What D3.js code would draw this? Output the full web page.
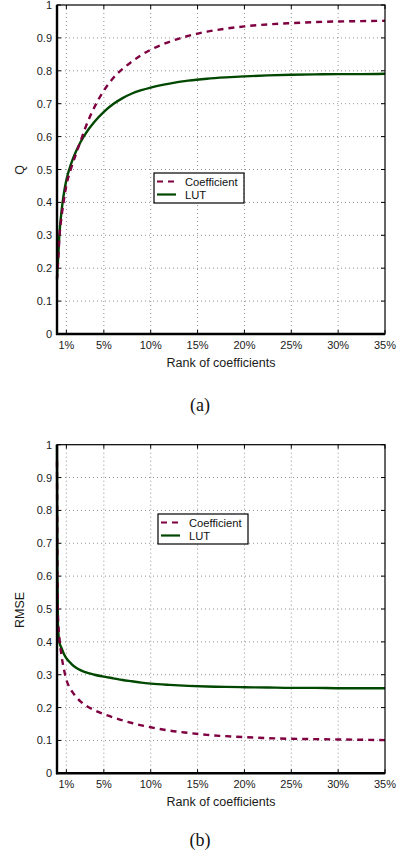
<!DOCTYPE html>
<html><head><meta charset="utf-8">
<script src="https://cdn.jsdelivr.net/npm/d3@7"></script>
<style>body{margin:0;background:#fff}svg{display:block}</style>
</head><body>
<script>
// ---- data ----
const rank = [0, 0.05, 0.1, 0.25, 0.5, 0.75, 1, 1.5, 2, 2.5, 3, 4, 5, 6, 7, 8, 9, 10, 12, 14, 16, 18, 20, 22.5, 25, 27.5, 30, 32.5, 35];
const qLUT = [0.17, 0.195, 0.22, 0.30, 0.377, 0.43, 0.468, 0.517, 0.553, 0.583, 0.607, 0.645, 0.675, 0.699, 0.717, 0.731, 0.741, 0.749, 0.761, 0.77, 0.776, 0.78, 0.783, 0.786, 0.788, 0.789, 0.79, 0.79, 0.791];
const qCoef = [0.165, 0.19, 0.21, 0.29, 0.36, 0.41, 0.452, 0.503, 0.545, 0.585, 0.625, 0.69, 0.74, 0.778, 0.806, 0.828, 0.848, 0.864, 0.888, 0.906, 0.919, 0.928, 0.935, 0.941, 0.945, 0.948, 0.95, 0.951, 0.952];
const rmseLUT = [1.0, 0.6, 0.45, 0.40, 0.38, 0.362, 0.35, 0.334, 0.322, 0.314, 0.308, 0.300, 0.294, 0.289, 0.284, 0.28, 0.276, 0.273, 0.269, 0.266, 0.264, 0.263, 0.262, 0.261, 0.26, 0.26, 0.259, 0.259, 0.259];
const rmseCoef = [0.95, 0.6, 0.48, 0.415, 0.355, 0.315, 0.285, 0.254, 0.234, 0.219, 0.208, 0.192, 0.18, 0.17, 0.161, 0.153, 0.146, 0.14, 0.13, 0.123, 0.117, 0.113, 0.11, 0.107, 0.105, 0.104, 0.103, 0.102, 0.101];
const xTicks = [1, 5, 10, 15, 20, 25, 30, 35];
const yTicks = [0, 0.1, 0.2, 0.3, 0.4, 0.5, 0.6, 0.7, 0.8, 0.9, 1];
const seriesNames = ["Coefficient", "LUT"];
const xLabel = "Rank of coefficients";

const colCoef = "#7f0040", colLUT = "#004800";
const FONT = "Liberation Sans, Arial, sans-serif";
const svg = d3.select("body").append("svg").attr("width", 398).attr("height", 852);

function panel(cfg) {
  const L = 57, R = 385, T = cfg.top, B = cfg.bottom;
  const x = d3.scaleLinear().domain([0, 35]).range([L, R]);
  const y = d3.scaleLinear().domain([0, 1]).range([B, T]);
  const g = svg.append("g");
  // grid
  g.selectAll(".gx").data(xTicks.filter(d => d < 35)).enter().append("line")
    .attr("x1", d => x(d)).attr("x2", d => x(d)).attr("y1", T).attr("y2", B)
    .attr("stroke", "#777").attr("stroke-width", 0.8).attr("stroke-dasharray", "1,3");
  g.selectAll(".gy").data(yTicks.filter(d => d > 0 && d < 1)).enter().append("line")
    .attr("x1", L).attr("x2", R).attr("y1", d => y(d)).attr("y2", d => y(d))
    .attr("stroke", "#777").attr("stroke-width", 0.8).attr("stroke-dasharray", "1,3");
  // tick marks (inward) on all sides
  const tl = 4;
  g.selectAll(".tyl").data(yTicks).enter().append("line")
    .attr("x1", L).attr("x2", L + tl).attr("y1", d => y(d)).attr("y2", d => y(d)).attr("stroke", "#000");
  g.selectAll(".tyr").data(yTicks).enter().append("line")
    .attr("x1", R).attr("x2", R - tl).attr("y1", d => y(d)).attr("y2", d => y(d)).attr("stroke", "#000");
  g.selectAll(".txb").data(xTicks).enter().append("line")
    .attr("x1", d => x(d)).attr("x2", d => x(d)).attr("y1", B).attr("y2", B - tl).attr("stroke", "#000");
  g.selectAll(".txt").data(xTicks).enter().append("line")
    .attr("x1", d => x(d)).attr("x2", d => x(d)).attr("y1", T).attr("y2", T + tl).attr("stroke", "#000");
  // lines
  const line = d3.line().x((d, i) => x(rank[i])).y(d => y(d)).curve(d3.curveMonotoneX);
  g.append("path").datum(cfg.lut).attr("d", line).attr("fill", "none")
    .attr("stroke", colLUT).attr("stroke-width", 2.4);
  g.append("path").datum(cfg.coef).attr("d", line).attr("fill", "none")
    .attr("stroke", colCoef).attr("stroke-width", 2.4).attr("stroke-dasharray", "6,5");
  // box
  g.append("rect").attr("x", L).attr("y", T).attr("width", R - L).attr("height", B - T)
    .attr("fill", "none").attr("stroke", "#000").attr("stroke-width", 1.2);
  g.append("line").attr("x1", L).attr("x2", L).attr("y1", T).attr("y2", B + 1).attr("stroke", "#000").attr("stroke-width", 2.4);
  g.append("line").attr("x1", L - 1).attr("x2", R).attr("y1", B).attr("y2", B).attr("stroke", "#000").attr("stroke-width", 2.4);
  // tick labels
  g.selectAll(".ly").data(yTicks).enter().append("text")
    .attr("x", L - 5).attr("y", d => y(d) + 4).attr("text-anchor", "end")
    .attr("font-family", FONT).attr("font-size", 11).attr("fill", "#1a1a1a")
    .text(d => d3.format("~g")(d));
  g.selectAll(".lx").data(xTicks).enter().append("text")
    .attr("x", d => x(d)).attr("y", B + 15).attr("text-anchor", "middle")
    .attr("font-family", FONT).attr("font-size", 11).attr("fill", "#1a1a1a")
    .text(d => d + "%");
  g.append("text").attr("x", 221).attr("y", B + 33).attr("text-anchor", "middle")
    .attr("font-family", FONT).attr("font-size", 12.5).attr("fill", "#1a1a1a").text(xLabel);
  g.append("text").attr("transform", `translate(24,${cfg.ylabY}) rotate(-90)`).attr("text-anchor", "middle")
    .attr("font-family", FONT).attr("font-size", 12.5).attr("fill", "#1a1a1a").text(cfg.ylab);
  // legend
  const lg = g.append("g").attr("transform", `translate(${cfg.leg[0]},${cfg.leg[1]})`);
  lg.append("rect").attr("width", 90).attr("height", 30).attr("fill", "#fff").attr("stroke", "#000").attr("stroke-width", 1.2);
  [[colCoef, "6,5"], [colLUT, null]].forEach((s, i) => {
    const yy = 8.5 + i * 13;
    const l = lg.append("line").attr("x1", 3).attr("x2", 22).attr("y1", yy).attr("y2", yy)
      .attr("stroke", s[0]).attr("stroke-width", 2.2);
    if (s[1]) l.attr("stroke-dasharray", s[1]);
    lg.append("text").attr("x", 31).attr("y", yy + 4)
      .attr("font-family", FONT).attr("font-size", 11.2).attr("fill", "#111").text(seriesNames[i]);
  });
  // caption
  svg.append("text").attr("x", 200).attr("y", cfg.capY).attr("text-anchor", "middle")
    .attr("font-family", "Liberation Serif, Times New Roman, serif").attr("font-size", 18).attr("fill", "#111").text(cfg.cap);
}

panel({top: 5, bottom: 334, lut: qLUT, coef: qCoef, ylab: "Q", ylabY: 170, leg: [154, 173], cap: "(a)", capY: 411});
panel({top: 444.7, bottom: 773.3, lut: rmseLUT, coef: rmseCoef, ylab: "RMSE", ylabY: 610, leg: [158, 514], cap: "(b)", capY: 846});
</script>
</body></html>
